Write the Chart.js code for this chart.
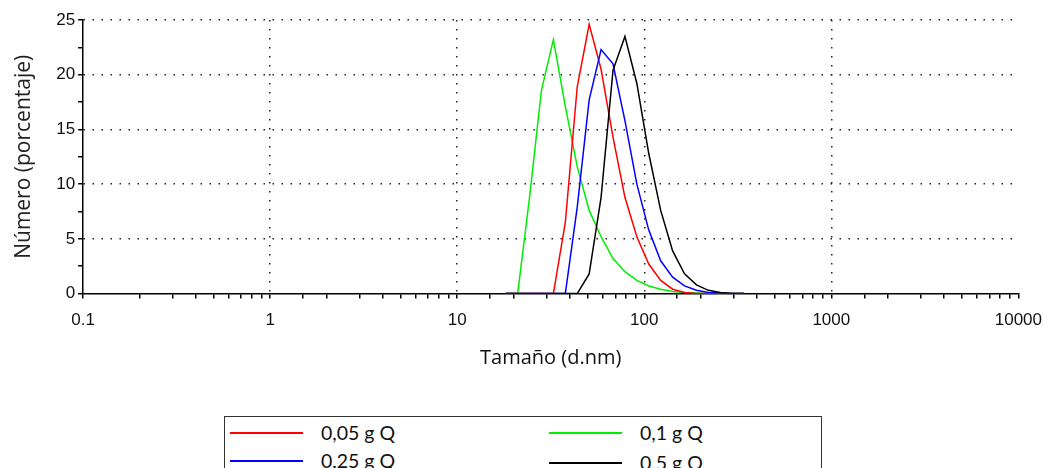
<!DOCTYPE html>
<html>
<head>
<meta charset="utf-8">
<script src="https://cdn.jsdelivr.net/npm/chart.js@4.4.1/dist/chart.umd.min.js"></script>
<style>
  body { margin: 0; background: #fff; }
  #wrap { position: relative; width: 1043px; height: 468px; overflow: hidden; }
  #chartBox { position: absolute; left: 0; top: 0; width: 1054px; height: 370px; }
  #legend { position: absolute; left: 224px; top: 416px; width: 596px; height: 70px;
    border: 1.5px solid #333; font-family: Lato, "Open Sans", sans-serif; font-size: 19.5px; color: #111; }
  .item { position: absolute; height: 24px; }
  .item .ln { position: absolute; left: 0; top: 11px; width: 73px; height: 1.5px; }
  .item .tx { position: absolute; left: 91px; top: 0; white-space: nowrap; line-height: 24px; }
</style>
</head>
<body>
<div id="wrap">
  <div id="chartBox"><canvas id="myChart"></canvas></div>
  <div id="legend"></div>
</div>
<script>
// sizes (d.nm) - log-spaced bins
const sizes = [18.17, 21.04, 24.36, 28.21, 32.67, 37.84, 43.82, 50.75, 58.77, 68.06, 78.82, 91.28, 105.7, 122.4, 141.8, 164.2, 190.1, 220.2, 255.0, 295.3, 342.0]

const labels = ['0,05 g Q', '0,1 g Q', '0,25 g Q', '0,5 g Q']
const colors = ['#ff0000', '#00ee00', '#0000ff', '#000000']

const q005 = [0, 0, 0, 0, 0, 6.5, 18.9, 24.6, 20.5, 14.3, 8.8, 5.2, 2.7, 1.2, 0.4, 0.1, 0, 0, 0, 0, 0]
const q01  = [0, 0, 8.8, 18.6, 23.2, 17.1, 11.6, 7.6, 5.2, 3.2, 2.0, 1.2, 0.7, 0.4, 0.2, 0.1, 0.05, 0.02, 0, 0, 0]
const q025 = [0, 0, 0, 0, 0, 0, 7.9, 17.7, 22.3, 21.0, 15.8, 10.0, 5.8, 3.0, 1.5, 0.7, 0.3, 0.1, 0.05, 0, 0]
const q05  = [0, 0, 0, 0, 0, 0, 0, 1.8, 8.8, 20.4, 23.5, 19.2, 12.8, 7.6, 3.9, 1.8, 0.8, 0.3, 0.1, 0, 0]

const series = [q005, q01, q025, q05]
const decades = [0.1, 1, 10, 100, 1000, 10000]

const isDecade = v => decades.some(d => Math.abs(v - d) / d < 1e-6)

const datasets = series.map((vals, i) => ({
  label: labels[i],
  data: vals.map((y, k) => ({ x: sizes[k], y: y })),
  borderColor: colors[i],
  backgroundColor: colors[i],
  borderWidth: 1.5,
  pointRadius: 0,
  tension: 0,
  fill: false
}))

// draw order: green under, then red, blue, black
datasets[1].order = 4
datasets[0].order = 3
datasets[2].order = 2
datasets[3].order = 1

const dotted = '#222'

var ctx = document.getElementById('myChart').getContext('2d')
var myChart = new Chart(ctx, {
  type: 'line',
  data: { datasets: datasets },
  options: {
    responsive: true,
    maintainAspectRatio: false,
    animation: false,
    layout: { padding: { left: 11, right: 9, top: 20, bottom: 0 } },
    plugins: { legend: { display: false }, tooltip: { enabled: false } },
    scales: {
      x: {
        type: 'logarithmic',
        min: 0.1,
        max: 10000,
        border: { color: '#000', width: 1.5, dash: [1.5, 7.5] },
        grid: {
          drawTicks: true,
          tickLength: 5,
          lineWidth: 1.5,
          color: c => {
            const v = c.tick && c.tick.value
            if (v === undefined) return 'rgba(0,0,0,0)'
            if (isDecade(v) && v > 0.1 && v < 10000) return dotted
            return 'rgba(0,0,0,0)'
          },
          tickColor: '#000',
          tickBorderDash: []
        },
        ticks: {
          autoSkip: false,
          maxRotation: 0,
          padding: 12,
          color: '#111',
          font: { family: 'Liberation Sans', size: 17 },
          callback: function (value) {
            return isDecade(value) ? String(value) : ''
          }
        },
        title: {
          display: true,
          text: 'Tamaño (d.nm)',
          color: '#111',
          padding: { top: 3, bottom: 0 },
          font: { family: 'Open Sans', size: 20 }
        }
      },
      y: {
        min: 0,
        max: 25,
        border: { color: '#000', width: 1.5, dash: [1.5, 7.5] },
        grid: {
          tickLength: 5,
          lineWidth: 1.5,
          color: c => {
            const v = c.tick && c.tick.value
            if (v > 0 && v % 5 === 0) return dotted
            return 'rgba(0,0,0,0)'
          },
          tickColor: '#000',
          tickBorderDash: []
        },
        ticks: {
          stepSize: 2.5,
          padding: 3,
          color: '#111',
          font: { family: 'Liberation Sans', size: 17 },
          callback: v => (v % 5 === 0 ? String(v) : '')
        },
        title: {
          display: true,
          text: 'Número (porcentaje)',
          color: '#222',
          padding: { top: 0, bottom: 17 },
          font: { family: 'Open Sans', size: 21 }
        }
      }
    }
  }
})

// legend in two columns, boxed
const legendBox = document.getElementById('legend')
const pos = [[5, 4], [324, 4], [5, 32], [324, 34]]
labels.forEach((t, i) => {
  const d = document.createElement('div')
  d.className = 'item'
  d.style.left = pos[i][0] + 'px'
  d.style.top = pos[i][1] + 'px'
  d.innerHTML = '<div class="ln" style="background:' + colors[i] + '"></div><div class="tx">' + t + '</div>'
  legendBox.appendChild(d)
})
</script>
</body>
</html>
